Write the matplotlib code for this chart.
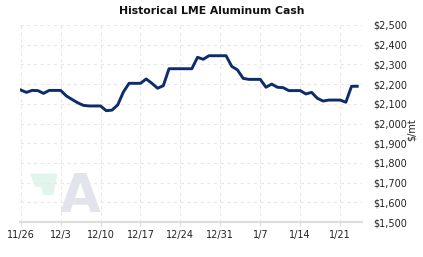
import numpy as np
import matplotlib
matplotlib.use('Agg')
import matplotlib.pyplot as plt
from matplotlib.patches import Polygon

# daily LME aluminum cash price, $/mt, starting 11/26
start_date = '2012-11-26'
prices = [2170, 2158, 2168, 2167, 2153, 2168, 2168, 2168, 2140, 2122,
          2105, 2092, 2089, 2089, 2089, 2065, 2068, 2094, 2160, 2204,
          2204, 2204, 2226, 2204, 2179, 2192, 2278, 2278, 2278, 2278,
          2278, 2336, 2326, 2344, 2344, 2344, 2344, 2290, 2272, 2229,
          2224, 2224, 2224, 2184, 2200, 2184, 2182, 2167, 2167, 2167,
          2150, 2158, 2128, 2114, 2119, 2119, 2119, 2108, 2189, 2189]
tick_labels = ['11/26', '12/3', '12/10', '12/17', '12/24', '12/31', '1/7', '1/14', '1/21']
y_ticks = [1500, 1600, 1700, 1800, 1900, 2000, 2100, 2200, 2300, 2400, 2500]

dates = np.datetime64(start_date) + np.arange(len(prices))
tick_dates = np.datetime64(start_date) + 7 * np.arange(len(tick_labels))

W, H = 423, 257
fig = plt.figure(figsize=(W / 100, H / 100), dpi=100)
ax = fig.add_axes([20 / W, 1 - 222 / H, 342 / W, 197 / H])


def px(x, y):
    # pixel position inside the figure -> axes fraction
    return ((x - 20) / 342, (222 - y) / 197)


# watermark logo
logo = [px(30, 173.5), px(57.5, 173.5), px(53.5, 195), px(43, 195), px(41, 187), px(35, 187)]
ax.add_patch(Polygon(logo, closed=True, transform=ax.transAxes, facecolor='#e2f5ed',
                     edgecolor='none', zorder=0))
ax.text(*px(80.5, 212), 'A', transform=ax.transAxes, fontsize=38, fontweight='bold',
        color='#e1e4ea', ha='center', va='baseline', zorder=0)

ax.plot(dates, prices, color='#0d2c6c', linewidth=2.1, solid_joinstyle='round', zorder=3)

ax.set_ylim(1500, 2500)
ax.set_xlim(dates[0] - np.timedelta64(3, 'h'), dates[0] + np.timedelta64(int(59.85 * 24), 'h'))
ax.set_yticks(y_ticks)
ax.set_yticklabels(['${:,}'.format(v) for v in y_ticks])
ax.set_xticks(tick_dates)
ax.set_xticklabels(tick_labels)

ax.yaxis.tick_right()
ax.tick_params(axis='y', length=0, pad=8, labelsize=7, labelcolor='#222222')
ax.tick_params(axis='x', length=3, width=0.8, color='#dddddd', pad=3,
               labelsize=7, labelcolor='#222222')
for lbl in ax.get_yticklabels():
    lbl.set_horizontalalignment('left')

ax.grid(True, color='#e8e8e8', linestyle=(0, (3, 3)), linewidth=0.8, zorder=1)
for s in ['top', 'left', 'right']:
    ax.spines[s].set_visible(False)
ax.spines['bottom'].set_color('#dddddd')
ax.spines['bottom'].set_linewidth(1.5)

fig.text(0.5, 1 - 11 / H, 'Historical LME Aluminum Cash', ha='center', va='center',
         fontsize=7.8, fontweight='bold', color='#111111')
fig.text(412 / W, 1 - 130 / H, '$/mt', rotation=90, ha='center', va='center',
         fontsize=7, color='#222222')

fig.savefig('out.png', dpi=100)
